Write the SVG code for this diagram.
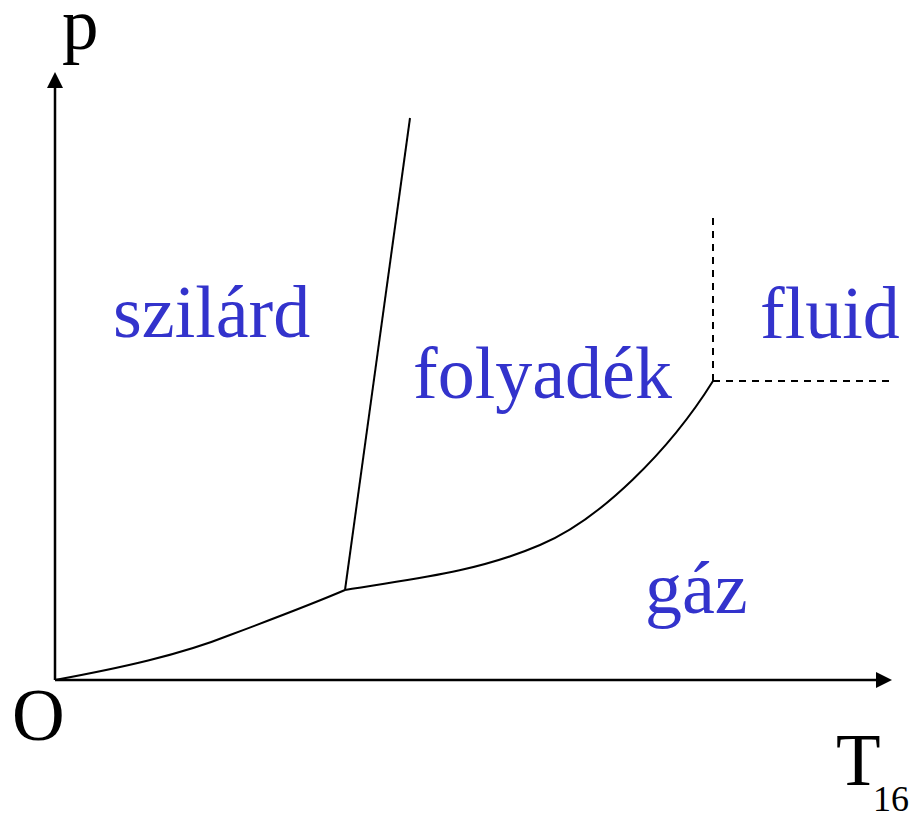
<svg xmlns="http://www.w3.org/2000/svg" width="913" height="817" viewBox="0 0 913 817">
<defs>
<style>
.ax{stroke:#000;stroke-width:2.5;fill:none}
.ln{stroke:#000;stroke-width:2;fill:none}
.ds{stroke:#000;stroke-width:2;fill:none;stroke-dasharray:7,6}
.lbl{font-family:"Liberation Serif","Times New Roman",serif;font-size:74px;fill:#3333CC}
.blk{font-family:"Liberation Serif","Times New Roman",serif;font-size:73px;fill:#000}
.sub{font-family:"Liberation Serif","Times New Roman",serif;font-size:36px;fill:#000}
</style>
</defs>
<rect width="913" height="817" fill="#fff"/>
<g id="axes">
<line class="ax" x1="55" y1="680" x2="55" y2="86"/>
<polygon points="55,72 47,88 63,88" fill="#000"/>
<line class="ax" x1="55" y1="680" x2="878" y2="680"/>
<polygon points="892,680 876,672 876,688" fill="#000"/>
</g>
<g id="connectors">
<path class="ln" d="M55,680 C120,668 180,655 230,635 C270,620 310,605 345,590"/>
<line class="ln" x1="345" y1="590" x2="410" y2="118"/>
<path class="ln" d="M345,590 C400,580 470,575 540,545 C600,520 670,450 713,381"/>
<line class="ds" x1="713" y1="381" x2="713" y2="218"/>
<line class="ds" x1="713" y1="381" x2="890" y2="381"/>
</g>
<g id="szilard"><text class="lbl" x="113" y="337">szilárd</text></g>
<g id="folyadek"><text class="lbl" x="413" y="398">folyadék</text></g>
<g id="fluid"><text class="lbl" x="760" y="338">fluid</text></g>
<g id="gaz"><text class="lbl" x="645" y="613">gáz</text></g>
<g id="p"><text class="blk" x="62" y="49">p</text></g>
<g id="O"><text class="blk" x="12" y="740">O</text></g>
<g id="T"><text class="blk" x="836" y="785">T</text><text class="sub" x="873" y="811">16</text></g>
</svg>
